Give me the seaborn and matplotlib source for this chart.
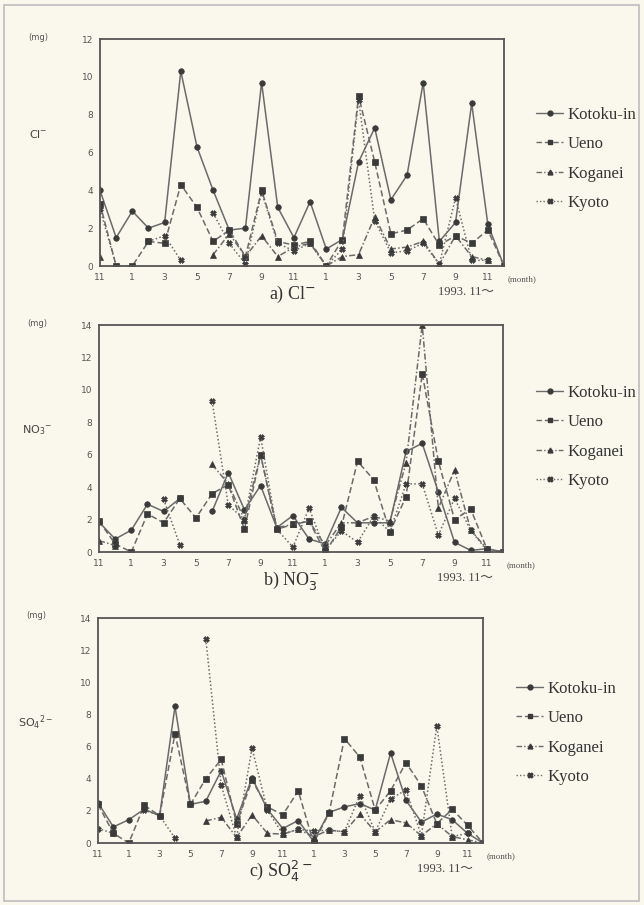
import numpy as np
import pandas as pd
import matplotlib
matplotlib.use('Agg')
import matplotlib.pyplot as plt
import seaborn as sns
from matplotlib.lines import Line2D
from matplotlib.patches import Rectangle

nan = np.nan

# months from 1993.11 to 1995.12, one point per month
months = list(range(26))
tick_labels = ['11', '1', '3', '5', '7', '9', '11', '1', '3', '5', '7', '9', '11']
sites = ['Kotoku-in', 'Ueno', 'Koganei', 'Kyoto']

# a) Cl-
cl_kotoku = [4.0, 1.5, 2.9, 2.0, 2.3, 10.3, 6.3, 4.0, 1.9, 2.0, 9.7, 3.1, 1.5, 3.4, 0.9, 1.4, 5.5, 7.3, 3.5, 4.8, 9.7, 1.3, 2.3, 8.6, 2.2, 0.0]
cl_ueno = [3.3, 0.0, 0.0, 1.3, 1.2, 4.3, 3.1, 1.3, 1.9, 0.5, 4.0, 1.3, 1.1, 1.3, 0.0, 1.4, 9.0, 5.5, 1.7, 1.9, 2.5, 1.1, 1.6, 1.2, 1.9, 0.0]
cl_koganei = [0.5, nan, nan, nan, nan, nan, nan, 0.6, 1.7, 0.5, 1.6, 0.5, 1.0, 1.2, 0.0, 0.5, 0.6, 2.6, 0.9, 1.0, 1.3, 0.1, 1.6, 0.5, 0.3, nan]
cl_kyoto = [3.0, 0.0, nan, 1.3, 1.6, 0.3, nan, 2.8, 1.2, 0.1, 3.9, 1.2, 0.8, 1.2, 0.0, 0.9, 8.8, 2.4, 0.7, 0.8, 1.2, 0.1, 3.6, 0.3, 0.3, nan]

# b) NO3-
no3_kotoku = [1.85, 0.8, 1.35, 2.95, 2.5, 3.3, nan, 2.5, 4.9, 2.6, 4.1, 1.5, 2.25, 0.8, 0.5, 2.75, 1.8, 1.8, 1.8, 6.2, 6.7, 3.7, 0.6, 0.1, 0.2, 0.0]
no3_ueno = [1.9, 0.5, 0.0, 2.35, 1.8, 3.3, 2.1, 3.6, 4.15, 1.4, 6.0, 1.4, 1.7, 1.9, 0.0, 1.55, 5.6, 4.45, 1.25, 3.4, 11.0, 5.6, 2.0, 2.65, 0.2, 0.0]
no3_koganei = [0.7, 0.4, nan, nan, nan, nan, nan, 5.4, 4.2, 2.0, 6.0, 1.5, 1.7, 1.9, 0.4, 1.8, 1.8, 2.2, 1.9, 5.5, 14.0, 2.7, 5.05, 1.35, 0.2, 0.0]
no3_kyoto = [nan, nan, nan, nan, 3.25, 0.45, nan, 9.3, 2.9, 2.0, 7.1, 1.4, 0.3, 2.7, 0.1, 1.3, 0.6, 2.2, 1.25, 4.2, 4.2, 1.05, 3.3, 1.35, 0.1, nan]

# c) SO4 2-
so4_kotoku = [2.5, 1.0, 1.45, 2.1, 1.7, 8.5, 2.4, 2.6, 4.5, 1.5, 4.05, 2.1, 0.9, 1.4, 0.1, 1.9, 2.25, 2.45, 2.05, 5.6, 2.65, 1.3, 1.8, 1.45, 0.6, 0.0]
so4_ueno = [2.4, 0.6, 0.0, 2.35, 1.7, 6.8, 2.4, 4.0, 5.2, 1.2, 3.9, 2.25, 1.75, 3.25, 0.0, 1.85, 6.5, 5.35, 2.05, 3.25, 5.0, 3.55, 1.2, 2.1, 1.1, 0.0]
so4_koganei = [nan, nan, nan, nan, nan, nan, nan, 1.37, 1.6, 0.35, 1.75, 0.6, 0.55, 0.85, 0.4, 0.8, 0.7, 1.8, 0.7, 1.45, 1.25, 0.45, 1.2, 0.4, 0.2, 0.0]
so4_kyoto = [0.9, 0.6, nan, 2.05, 1.7, 0.3, nan, 12.7, 3.6, 0.35, 5.9, 2.05, 0.55, 0.85, 0.75, 0.8, 0.7, 2.95, 0.7, 2.75, 3.3, 0.45, 7.3, 0.4, 0.6, nan]

bg = '#faf8ec'
ink = '#3a3a3a'
line_c = '#6a6a6a'

sns.set_theme(style='white')
plt.rcParams['font.family'] = ['DejaVu Sans']
serif = ['Liberation Serif', 'DejaVu Serif', 'Noto Sans CJK JP']

markers = {'Kotoku-in': 'o', 'Ueno': 's', 'Koganei': '^', 'Kyoto': 'X'}
dashes = {'Kotoku-in': '', 'Ueno': (4, 2), 'Koganei': (4, 1.5, 1, 1.5), 'Kyoto': (1, 1.5)}


def long_form(series):
    rows = []
    for site, vals in zip(sites, series):
        seg = 0
        gap = True
        for i, v in zip(months, vals):
            if np.isnan(v):
                gap = True
                continue
            if gap:
                seg += 1
                gap = False
            rows.append((site, site + str(seg), i, v))
    return pd.DataFrame(rows, columns=['site', 'seg', 'month', 'mg'])


fig = plt.figure(figsize=(6.44, 9.05), dpi=100, facecolor=bg)
fig.patches.append(Rectangle((0.006, 0.004), 0.986, 0.99, transform=fig.transFigure,
                             fill=False, ec='#bdbdbd', lw=1.2))

W, H = 644.0, 905.0
panels = [
    dict(data=[cl_kotoku, cl_ueno, cl_koganei, cl_kyoto], box=(100, 504, 39, 266), ymax=12,
         ion='Cl$^{-}$', ion_v=7.0, cap='a) Cl$^{-}$', leg_y=159, leg_x=528),
    dict(data=[no3_kotoku, no3_ueno, no3_koganei, no3_kyoto], box=(99, 503, 325, 552), ymax=14,
         ion='NO$_3$$^{-}$', ion_v=7.5, cap='b) NO$_3^{-}$', leg_y=437, leg_x=528),
    dict(data=[so4_kotoku, so4_ueno, so4_koganei, so4_kyoto], box=(98, 483, 618, 843), ymax=14,
         ion='SO$_4$$^{2-}$', ion_v=7.5, cap='c) SO$_4^{2-}$', leg_y=733, leg_x=508),
]

for p in panels:
    l, r, t, b = p['box']
    ax = fig.add_axes([l / W, 1 - b / H, (r - l) / W, (b - t) / H])
    ax.set_facecolor(bg)
    df = long_form(p['data'])
    sns.lineplot(data=df, x='month', y='mg', style='site', units='seg', estimator=None,
                 markers=markers, dashes=dashes, color=line_c, linewidth=1.1,
                 markersize=4, markeredgecolor=ink, markerfacecolor=ink,
                 markeredgewidth=0.5, legend=False, ax=ax)
    ax.set_xlim(0, 25)
    ax.set_ylim(0, p['ymax'])
    ax.set_xticks(months)
    ax.set_xticklabels([tick_labels[i // 2] if i % 2 == 0 else '' for i in months])
    ax.set_yticks(range(0, p['ymax'] + 1, 2))
    ax.tick_params(direction='in', length=3, width=0.8, color='#777', labelsize=6.5,
                   labelcolor='#555', pad=5)
    ax.set_xlabel('')
    ax.set_ylabel('')
    for s in ax.spines.values():
        s.set_color('#555')
        s.set_linewidth(1.3)

    # side labels
    fig.text((l - 62) / W, 1 - (t - 2) / H, '(mg)', fontsize=6, color='#555', ha='center', va='center')
    ion_y = t + (b - t) * (1 - p['ion_v'] / p['ymax'])
    fig.text((l - 62) / W, 1 - ion_y / H, p['ion'], fontsize=8, color='#444', ha='center', va='center')
    fig.text((r + 4) / W, 1 - (b + 13) / H, '(month)', fontsize=6.5, color='#555',
             family=serif, ha='left', va='center')
    fig.text(((l + r) / 2 - 10) / W, 1 - (b + 28) / H, p['cap'], fontsize=13, color='#333',
             family=serif, ha='center', va='center')
    fig.text((r - 38) / W, 1 - (b + 26) / H, '1993. 11\u301c', fontsize=9, color='#444',
             family=serif, ha='center', va='center')

    handles = [Line2D([], [], color=line_c, lw=1.0, dashes=dashes[s] if dashes[s] else (None, None),
                      marker=markers[s], ms=3.5, mfc=ink, mec=ink) for s in sites]
    fig.legend(handles, sites, loc='center left',
               bbox_to_anchor=(p['leg_x'] / W, 1 - p['leg_y'] / H),
               frameon=False, prop={'family': serif, 'size': 12}, labelcolor='#333',
               handlelength=1.6, handletextpad=0.3, labelspacing=0.8, borderpad=0)

fig.savefig('out.png', dpi=100, facecolor=bg)
